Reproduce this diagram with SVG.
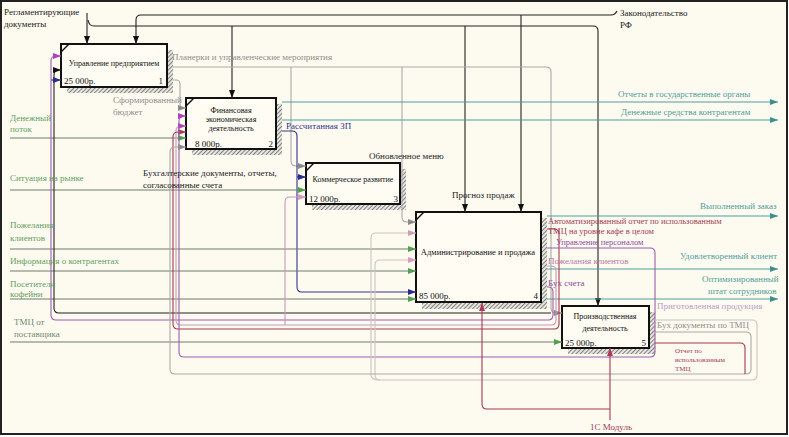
<svg xmlns="http://www.w3.org/2000/svg" width="789" height="437" viewBox="0 0 789 437">
<style>
text{font-family:"Liberation Serif","Times New Roman",serif;font-size:9px}
.bt{font-size:8px;fill:#111}
.bn{font-size:9px;fill:#111}
.sm{font-size:8.5px}
.box{fill:#fffcf3;stroke:#111;stroke-width:2}
.sh{fill:url(#hatch)}
.cn{stroke:#111;stroke-width:1.5;fill:none}
#connectors path{fill:none;stroke-width:1.1}
.k{stroke:#222}
.g{stroke:#a9a9a9}
.lg{stroke:#cdc3c3}
.p{stroke:#9c5fae}
.pk{stroke:#c89ab8}
.r{stroke:#a33a55}
.t{stroke:#4f9d9b}
.in{stroke:#6f7f6f}
.b{stroke:#34348a}
.tk{fill:#222}.tg{fill:#8e8e8e}.tgr{fill:#5f9f5f}.tt{fill:#4f9d9b}.tr{fill:#a33a55}.tp{fill:#8e4aa0}.tpk{fill:#b57aa5}.tb{fill:#34348a}.tlp{fill:#b8a0c4}
</style>
<defs>
<pattern id="hatch" width="3" height="3" patternUnits="userSpaceOnUse" patternTransform="rotate(45)">
<rect width="3" height="3" fill="#e8e6e0"/>
<line x1="0" y1="0" x2="0" y2="3" stroke="#555" stroke-width="1.4"/>
</pattern>
<marker id="mk" viewBox="0 0 8 6" refX="8" refY="3" markerWidth="8" markerHeight="6" orient="auto" markerUnits="userSpaceOnUse"><path d="M0,0 L8,3 L0,6z" fill="#111"/></marker>
<marker id="mg" viewBox="0 0 8 6" refX="8" refY="3" markerWidth="8" markerHeight="6" orient="auto" markerUnits="userSpaceOnUse"><path d="M0,0 L8,3 L0,6z" fill="#4fa04f"/></marker>
<marker id="mt" viewBox="0 0 8 6" refX="8" refY="3" markerWidth="8" markerHeight="6" orient="auto" markerUnits="userSpaceOnUse"><path d="M0,0 L8,3 L0,6z" fill="#3d8f8f"/></marker>
<marker id="mp" viewBox="0 0 8 6" refX="8" refY="3" markerWidth="8" markerHeight="6" orient="auto" markerUnits="userSpaceOnUse"><path d="M0,0 L8,3 L0,6z" fill="#b040c0"/></marker>
<marker id="mgr" viewBox="0 0 8 6" refX="8" refY="3" markerWidth="8" markerHeight="6" orient="auto" markerUnits="userSpaceOnUse"><path d="M0,0 L8,3 L0,6z" fill="#8a8a8a"/></marker>
<marker id="mb" viewBox="0 0 8 6" refX="8" refY="3" markerWidth="8" markerHeight="6" orient="auto" markerUnits="userSpaceOnUse"><path d="M0,0 L8,3 L0,6z" fill="#2a2a90"/></marker>
<marker id="mpk" viewBox="0 0 8 6" refX="8" refY="3" markerWidth="8" markerHeight="6" orient="auto" markerUnits="userSpaceOnUse"><path d="M0,0 L8,3 L0,6z" fill="#d79ac0"/></marker>
<marker id="mr" viewBox="0 0 8 6" refX="8" refY="3" markerWidth="8" markerHeight="6" orient="auto" markerUnits="userSpaceOnUse"><path d="M0,0 L8,3 L0,6z" fill="#b0385a"/></marker>
</defs>
<rect x="1" y="1" width="786" height="433" fill="#fdfaf0" stroke="#222" stroke-width="2"/>

<g id="node1">
<path class="sh" d="M167,50 H173 V93 H67 V87 H167 Z"/>
<rect class="box" x="61" y="44" width="106" height="43"/>
<path class="cn" d="M61,52 L69,44"/>
<text class="bt" x="114" y="66" text-anchor="middle">Управление предприятием</text>
<text class="bn" x="64" y="84">25 000р.</text>
<text class="bn" x="163" y="84" text-anchor="end">1</text>
</g>
<g id="node2">
<path class="sh" d="M276,104 H282 V155 H192 V149 H276 Z"/>
<rect class="box" x="186" y="98" width="90" height="51"/>
<path class="cn" d="M186,106 L194,98"/>
<text class="bt" x="231" y="113" text-anchor="middle">Финансовая</text>
<text class="bt" x="231" y="122" text-anchor="middle">экономическая</text>
<text class="bt" x="231" y="131" text-anchor="middle">деятельность</text>
<text class="bn" x="195" y="147">8 000р.</text>
<text class="bn" x="273" y="147" text-anchor="end">2</text>
</g>
<g id="node3">
<path class="sh" d="M400,169 H406 V210 H312 V204 H400 Z"/>
<rect class="box" x="306" y="163" width="94" height="41"/>
<path class="cn" d="M306,171 L314,163"/>
<text class="bt" x="353" y="182" text-anchor="middle">Коммерческое развитие</text>
<text class="bn" x="309" y="202">12 000р.</text>
<text class="bn" x="398" y="202" text-anchor="end">3</text>
</g>
<g id="node4">
<path class="sh" d="M541,218 H547 V309 H422 V302 H541 Z"/>
<rect class="box" x="416" y="212" width="125" height="90"/>
<path class="cn" d="M416,220 L424,212"/>
<text class="bt" x="478" y="255" text-anchor="middle" style="font-size:8.5px">Администрирование и продажа</text>
<text class="bn" x="419" y="299">85 000р.</text>
<text class="bn" x="538" y="299" text-anchor="end">4</text>
</g>
<g id="node5">
<path class="sh" d="M649,312 H655 V354 H568 V348 H649 Z"/>
<rect class="box" x="562" y="306" width="87" height="42"/>
<text class="bt" x="605" y="319" text-anchor="middle">Производственная</text>
<text class="bt" x="605" y="331" text-anchor="middle">деятельность</text>
<text class="bn" x="565" y="346">25 000р.</text>
<text class="bn" x="646" y="346" text-anchor="end">5</text>
</g>

<g id="connectors">
<path class="k" d="M87,13 V44" marker-end="url(#mk)"/>
<path class="k" d="M88,20 Q89,26 94,26 H593 Q598,26 598,31 V306" marker-end="url(#mk)"/>
<path class="k" d="M232,26 V98" marker-end="url(#mk)"/>
<path class="k" d="M465,26 V212" marker-end="url(#mk)"/>
<path class="k" d="M617,11 Q615,15 611,15 H141 Q136,15 136,20 V44" marker-end="url(#mk)"/>
<path class="k" d="M521,15 V212" marker-end="url(#mk)"/>

<path class="g" d="M173,67 H546 Q551,67 551,72 V308 Q551,313 556,313 H562" marker-end="url(#mgr)"/>
<path class="g" d="M291,67 V161 Q291,166 296,166 H306" marker-end="url(#mgr)"/>
<path class="g" d="M402,67 V217 Q402,222 407,222 H416" marker-end="url(#mgr)"/>
<path class="g" d="M173,80 H176 Q180,80 180,84 V104 Q180,108 183,108 H186" marker-end="url(#mgr)"/>

<path class="b" d="M282,131 H292 Q297,131 297,136 V287 Q297,292 302,292 H416" marker-end="url(#mb)"/>
<path class="b" d="M297,177 H306" marker-end="url(#mb)"/>

<path class="in" d="M10,138 H186" marker-end="url(#mg)"/>
<path class="in" d="M10,190 H306" marker-end="url(#mg)"/>
<path class="in" d="M10,249 H416" marker-end="url(#mg)"/>
<path class="in" d="M10,271 H416" marker-end="url(#mg)"/>
<path class="in" d="M10,299 H416" marker-end="url(#mg)"/>
<path class="in" d="M10,342 H562" marker-end="url(#mg)"/>

<path class="t" d="M282,102 H778" marker-end="url(#mt)"/>
<path class="t" d="M282,120 H778" marker-end="url(#mt)"/>
<path class="t" d="M547,216 H778" marker-end="url(#mt)"/>
<path class="t" d="M547,269 H778" marker-end="url(#mt)"/>
<path class="t" d="M547,299 H778" marker-end="url(#mt)"/>

<path class="k" d="M54,200 V75 Q54,70 59,70 H61" marker-end="url(#mk)"/>
<path class="k" d="M54,200 V308 Q54,313 59,313 H551"/>
<path class="p" d="M547,287 H548 Q553,287 553,292 V315 Q553,320 548,320 H56 Q51,320 51,315 V61 Q51,56 56,56 H61" marker-end="url(#mp)"/>
<path class="b" d="M51,80 H61" marker-end="url(#mb)"/>
<path class="pk" d="M547,266 H551 Q556,266 556,271 V320 Q556,325 551,325 H181 Q176,325 176,320 V131 Q176,126 181,126 H186" marker-end="url(#mp)"/>
<path class="pk" d="M285,325 V202 Q285,197 290,197 H306" marker-end="url(#mpk)"/>
<path class="r" d="M547,229 H554 Q559,229 559,234 V324 Q559,329 554,329 H178 Q173,329 173,324 V137 Q173,132 178,132 H186" marker-end="url(#mr)"/>
<path class="p" d="M547,248 H650 Q655,248 655,253 V352 Q655,357 650,357 H184 Q179,357 179,352 V121 Q179,116 184,116 H186" marker-end="url(#mp)"/>

<path class="lg" d="M655,320 H752 Q757,320 757,325 V375 Q757,380 752,380 H380 Q375,380 375,375 V265 Q375,260 380,260 H416" marker-end="url(#mpk)"/>
<path class="lg" d="M380,380 Q371,380 371,375 V238 Q371,233 376,233 H416" marker-end="url(#mpk)"/>
<path class="g" d="M655,332 H746 Q751,332 751,337 V369 Q751,374 746,374 H175 Q170,374 170,369 V152 Q170,147 175,147 H186" marker-end="url(#mgr)"/>
<path class="r" d="M655,343 H740 Q745,343 745,348 V374"/>

<path class="r" d="M610,420 V348" marker-end="url(#mr)"/>
<path class="r" d="M610,409 H487 Q482,409 482,404 V303" marker-end="url(#mr)"/>
</g>

<g id="labels">
<text class="tk" x="4" y="15">Регламентирующие</text>
<text class="tk" x="4" y="27">документы</text>
<text class="tk" x="620" y="16">Законодательство</text>
<text class="tk" x="620" y="28">РФ</text>
<text class="tg" x="172" y="60">Планерки и управленческие мероприятия</text>
<text class="tg" x="113" y="103">Сформированный</text>
<text class="tg" x="113" y="115">бюджет</text>
<text class="tb" x="286" y="129">Рассчитанная ЗП</text>
<text class="tk" x="369" y="159">Обновленное меню</text>
<text class="tk" x="143" y="176">Бухгалтерские документы, отчеты,</text>
<text class="tk" x="143" y="188">согласованные счета</text>
<text class="tk" x="452" y="198">Прогноз продаж</text>
<text class="tt" x="618" y="97">Отчеты в государственные органы</text>
<text class="tt" x="621" y="115">Денежные средства контрагентам</text>
<text class="tt" x="700" y="209">Выполненный заказ</text>
<text class="tr sm" x="548" y="224">Автоматизированный отчет по использованным</text>
<text class="tr sm" x="548" y="234">ТМЦ на уровне кафе в целом</text>
<text class="tp sm" x="556" y="245">Управление персоналом</text>
<text class="tpk" x="548" y="264">Пожелания клиентов</text>
<text class="tp" x="548" y="286">Бух счета</text>
<text class="tt" x="680" y="259">Удовлетворенный клиент</text>
<text class="tt" x="702" y="282">Оптимизированный</text>
<text class="tt" x="708" y="294">штат сотрудников</text>
<text class="tlp" x="657" y="309">Приготовленная продукция</text>
<text class="tg" x="657" y="328">Бух документы по ТМЦ</text>
<text class="tr" x="675" y="353" style="font-size:7px">Отчет по</text>
<text class="tr" x="675" y="362" style="font-size:7px">использованным</text>
<text class="tr" x="675" y="371" style="font-size:7px">ТМЦ</text>
<text class="tr" x="590" y="430">1С Модуль</text>
<text class="tgr" x="10" y="121">Денежный</text>
<text class="tgr" x="10" y="132">поток</text>
<text class="tgr" x="10" y="181">Ситуация на рынке</text>
<text class="tgr" x="10" y="228">Пожелания</text>
<text class="tgr" x="10" y="241">клиентов</text>
<text class="tgr" x="10" y="264">Информация о контрагентах</text>
<text class="tgr" x="10" y="287">Посетители</text>
<text class="tgr" x="10" y="297">кофейни</text>
<text x="14" y="325" style="fill:#6f8a6f">ТМЦ от</text>
<text x="14" y="337" style="fill:#6f8a6f">поставщика</text>
</g>
</svg>
